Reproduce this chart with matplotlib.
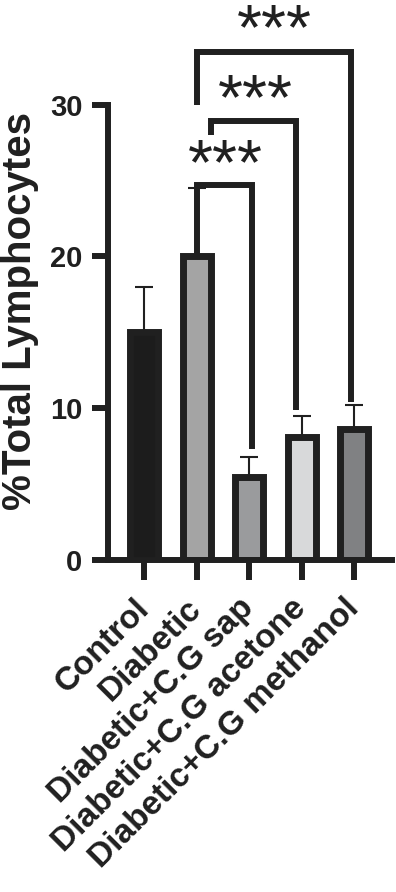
import matplotlib
matplotlib.use("Agg")
import matplotlib.pyplot as plt
import matplotlib.transforms as mtransforms

groups = ["Control", "Diabetic", "Diabetic+C.G sap", "Diabetic+C.G acetone", "Diabetic+C.G methanol"]
means = [15.0, 20.0, 5.5, 8.1, 8.6]
sem_up = [3.0, 4.5, 1.3, 1.4, 1.6]
fills = ["#1c1c1c", "#a4a4a4", "#9a9b9d", "#d8d9da", "#808183"]
yticks = [0, 10, 20, 30]

# significance brackets: left x, right x, top, left foot, right foot
br_left_x = [1.0, 1.27, 1.0]
br_right_x = [2.05, 2.9, 3.94]
br_top = [24.7, 28.9, 33.5]
br_left_foot = [20.0, 28.0, 30.0]
br_right_foot = [7.3, 9.9, 10.4]
star_x = [1.54, 2.11, 2.48]
star_y = [26.9, 31.2, 35.8]
star_txt = ["***", "***", "***"]

plt.rcParams['font.family'] = ['Liberation Sans', 'DejaVu Sans']
plt.rcParams['font.weight'] = 'bold'
ink = "#202020"

fig = plt.figure(figsize=(3.96, 8.92), dpi=100)
ax = fig.add_axes([108/396, 332/892, 284/396, 560/892])

x = list(range(len(groups)))
ax.errorbar(x, means, yerr=[[0]*len(means), sem_up], fmt="none", ecolor=ink,
            elinewidth=1.5, capsize=6.5, capthick=1.5, zorder=1)
ax.bar(x, means, width=0.53, color=fills, edgecolor=ink, linewidth=5, zorder=2)

for lx, rx, top, lf, rf in zip(br_left_x, br_right_x, br_top, br_left_foot, br_right_foot):
    ax.plot([lx, lx, rx, rx], [lf, top, top, rf], color=ink, lw=4.3,
            solid_joinstyle="miter", solid_capstyle="butt", zorder=3, clip_on=False)

star_tr = mtransforms.offset_copy(ax.transData, fig=fig, x=0, y=-23.5, units="points")
for sx, sy, s in zip(star_x, star_y, star_txt):
    ax.text(sx, sy, s, transform=star_tr, ha="center", va="baseline",
            fontsize=46, fontweight="normal", color=ink, clip_on=False)

ax.set_xlim(-0.69, 4.72)
ax.set_ylim(0, 36.9)
ax.set_yticks(yticks)
ax.set_xticks(x)
ax.set_xticklabels(groups, rotation=45, ha="right", va="center", rotation_mode="anchor",
                   fontsize=24, fontweight="bold", color=ink)
ax.set_yticklabels([str(v) for v in yticks], fontsize=21, fontweight="bold", color=ink)

for side in ["top", "right"]:
    ax.spines[side].set_visible(False)
ax.spines["left"].set_bounds(0, 30)
for side in ["left", "bottom"]:
    ax.spines[side].set_linewidth(4.3)
    ax.spines[side].set_color(ink)
ax.tick_params(axis="y", length=11.5, width=4.3, color=ink, pad=7)
ax.tick_params(axis="x", length=14.4, width=4.3, color=ink, pad=17)

fig.text(1/396, 1 - 311/892, "%Total Lymphocytes", rotation=90, ha="left", va="center",
         fontsize=29, fontweight="bold", color=ink)

fig.savefig("out.png", dpi=100)
